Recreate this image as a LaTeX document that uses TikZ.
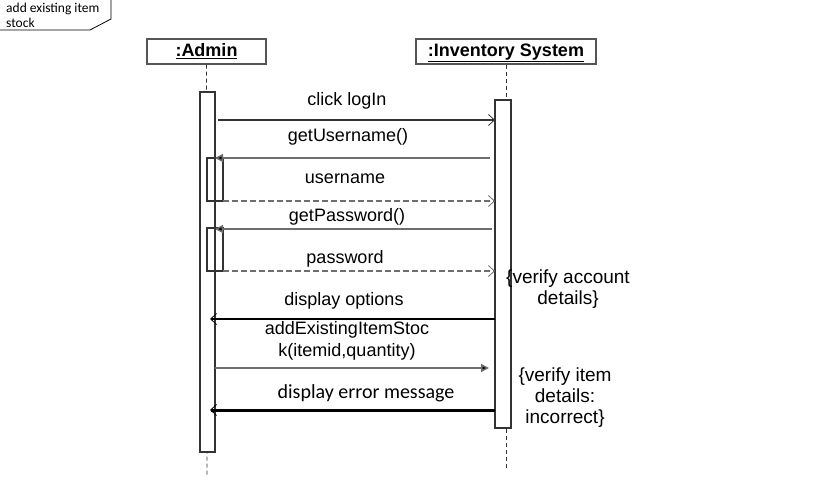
\documentclass[tikz,border=0pt]{standalone}
\usepackage{fontspec}
\setmainfont{Liberation Sans}
\newfontfamily\calfont{Carlito}
\usetikzlibrary{arrows.meta}
\definecolor{boxline}{HTML}{555555}
\definecolor{actline}{HTML}{333333}
\definecolor{msggray}{HTML}{6E6E6E}
\tikzset{
  lifebox/.style={draw=boxline, line width=1.2pt, minimum height=25pt, inner sep=0pt, text height=13pt, text depth=3pt, font=\fontsize{18}{21}\selectfont\bfseries},
  lifeline/.style={draw=actline, line width=0.9pt, dash pattern=on 4pt off 3pt},
  actbox/.style={draw=actline, line width=1.6pt, fill=white},
  subact/.style={draw=actline, line width=1.6pt},
  openhead/.style={-{Straight Barb[length=6pt,width=11pt,line width=0.8pt]}},
  fillhead/.style={-{Triangle[length=8pt,width=8pt,fill=black]}},
  msglabel/.style={font=\fontsize{18}{21}\selectfont, inner sep=0pt},
  notetext/.style={font=\fontsize{19}{21}\selectfont, inner sep=0pt, align=center},
}
\begin{document}
\begin{tikzpicture}[x=1pt,y=-1pt]
\useasboundingbox (0,0) rectangle (832,492);
% note
\draw[line width=0.8pt] (111,0) -- (111,19) -- (90,30) -- (0,30);
\node[anchor=west, inner sep=0pt, align=left, font=\calfont\fontsize{13.5}{15}\selectfont] (note) at (6,15) {add existing item\\stock};
% lifeline heads
\node[lifebox, minimum width=119pt] (admin) at (206.5,51.5) {\underline{:Admin}};
\node[lifebox, minimum width=180pt] (inv) at (506,51.5) {\underline{:Inventory System}};
% lifelines
\coordinate (aend) at (207,476);
\coordinate (iend) at (506,468);
\draw[lifeline] (admin.south) -- (aend);
\draw[lifeline] (inv.south) -- (iend);
% activations
\draw[actbox] (200,92) rectangle (215,452);
\draw[actbox] (495,100) rectangle (511,428);
\draw[subact] (207,158) rectangle (223,201);
\draw[subact] (207,228) rectangle (223,271);
% message endpoints
\coordinate (m1s) at (218,120); \coordinate (m1e) at (495,120);
\coordinate (m2s) at (490,158); \coordinate (m2e) at (215,158);
\coordinate (m3s) at (223,201); \coordinate (m3e) at (495,201);
\coordinate (m4s) at (492,229); \coordinate (m4e) at (215,229);
\coordinate (m5s) at (223,271); \coordinate (m5e) at (495,271);
\coordinate (m6s) at (495,319); \coordinate (m6e) at (210,319);
\coordinate (m7s) at (215,368); \coordinate (m7e) at (489,368);
\coordinate (m8s) at (495,410); \coordinate (m8e) at (210,410);
% messages
\draw[openhead, draw=actline, line width=2pt] (m1s) -- (m1e);
\draw[fillhead, draw=msggray, line width=1.5pt] (m2s) -- (m2e);
\draw[openhead, draw=msggray, line width=1.3pt, dash pattern=on 6pt off 3pt] (m3s) -- (m3e);
\draw[fillhead, draw=msggray, line width=1.5pt] (m4s) -- (m4e);
\draw[openhead, draw=msggray, line width=1.3pt, dash pattern=on 6pt off 3pt] (m5s) -- (m5e);
\draw[openhead, draw=black, line width=2pt] (m6s) -- (m6e);
\draw[fillhead, draw=msggray, line width=1.5pt] (m7s) -- (m7e);
\draw[openhead, draw=black, line width=3pt] (m8s) -- (m8e);
% labels
\node[msglabel] (l1) at (347,101) {click logIn};
\node[msglabel] (l2) at (348,137) {getUsername()};
\node[msglabel] (l3) at (345,179) {username};
\node[msglabel] (l4) at (347,217) {getPassword()};
\node[msglabel] (l5) at (345,259) {password};
\node[msglabel] (l6) at (344,301) {display options};
\node[msglabel, align=center, font=\fontsize{18}{22}\selectfont] (l7) at (347,341) {addExistingItemStoc\\k(itemid,quantity)};
\node[msglabel, font=\calfont\fontsize{20}{22}\selectfont] (l8) at (366,393) {display error message};
% constraints
\node[notetext] (c1) at (568,289.5) {\{verify account\\details\}};
\node[notetext] (c2) at (565,398) {\{verify item\\details:\\incorrect\}};
\end{tikzpicture}
\end{document}
